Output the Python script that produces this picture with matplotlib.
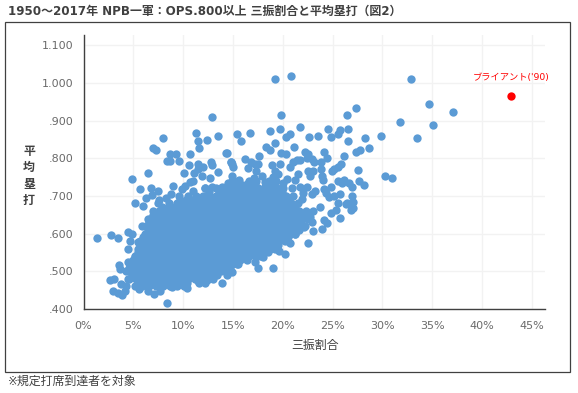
import matplotlib
matplotlib.use("Agg")
import matplotlib.pyplot as plt
from matplotlib.patches import Rectangle

plt.rcParams['font.family'] = ['DejaVu Sans', 'Noto Sans CJK JP']

W, H = 578, 393

# Isolated points: strike-out rate (%), total-base average
outer_strike = [19.2,20.8,32.9,34.7,37.1,35.1,33.5,31.8,27.4,26.5,29.9,28.3,28.7,27.8,27.4,30.3,31.0,27.6,27.7,28.2,
 12.87,11.3,13.5,11.5,12.4,11.6,8.0,6.95,7.3,8.7,9.3,8.35,8.7,9.6,10.7,14.3,10.6,11.5,12.8,14.8,10.1,6.5,4.9,5.7,6.75,7.5,9.0,5.2,6.0,6.3,6.85,
 19.8,15.4,16.7,15.8,18.7,19.7,21.7,20.3,20.7,22.6,23.5,24.5,24.8,25.5,25.8,26.6,26.6,26.2,14.4,18.3,18.7,19.2,21.1,24.1,24.4,17.6,19.8,20.3,
 22.2,22.5,22.9,23.1,16.2,16.8,17.5,17.2,14.8,15.0,16.5,18.9,19.7,20.7,21.0,21.4,21.7,22.4,23.8,23.8,25.9,25.5,25.1,24.9,17.3,19.2,19.5,19.0,
 21.2,21.5,22.5,23.0,22.7,23.9,24.0,25.5,26.2,26.0,27.0,26.7,24.8,24.1,21.7,22.4,27.0,27.1,26.5,25.5,25.1,25.8,27.1,
 1.35,2.75,3.5,4.5,4.9,4.7,4.5,3.55,3.65,2.65,3.1,3.0,3.5,3.9,4.2,3.75,4.3,4.5,8.35,13.9,14.4,7.1,5.6,10.4,8.9,6.5,7.7,11.5,12.4,10.2,
 4.5,5.2,5.85,5.5,6.2,5.85,6.5,22.5,19.0,17.5,17.2,18.0,20.2,19.6,20.7,25.7,23.9,23.0,24.1,24.4,22.7,22.9,24.8,23.7,26.9,26.4,21.2,22.1,15.5,14.9,
 7.6,8.3,8.8,9.9,10.2,10.7,11.0,11.0,12.2,12.9,11.9,12.7,11.5,12.0,12.9,13.5,11.1,13.9,14.5,14.9,14.9,
 15.6,16.4,17.1,18.2,17.9,18.8,20.0,20.9,22.0,23.2,24.6,21.9,20.4,15.9,16.9,18.4,19.9,22.9,24.3,25.3]
outer_slug = [1.011,1.019,1.009,.945,.924,.889,.855,.897,.933,.914,.859,.853,.826,.821,.816,.754,.748,.768,.739,.730,
 .909,.867,.858,.846,.848,.826,.853,.827,.823,.811,.811,.794,.794,.794,.811,.814,.781,.786,.791,.789,.762,.760,.744,.719,.722,.714,.727,.682,.674,.694,.703,
 .914,.864,.866,.845,.872,.877,.882,.856,.864,.856,.859,.877,.856,.864,.874,.877,.845,.805,.813,.829,.823,.840,.829,.816,.800,.805,.813,.811,
 .816,.812,.799,.789,.797,.789,.786,.785,.789,.778,.773,.781,.784,.778,.789,.796,.796,.801,.789,.772,.786,.776,.772,.765,.765,.765,.758,.749,
 .741,.759,.767,.767,.754,.754,.741,.739,.743,.733,.725,.734,.723,.719,.725,.723,.701,.683,.680,.680,.701,.706,.668,
 .589,.596,.589,.603,.600,.581,.558,.518,.507,.478,.480,.449,.442,.437,.449,.467,.462,.480,.415,.468,.489,.440,.452,.455,.458,.449,.449,.475,.478,.462,
 .524,.537,.568,.578,.590,.621,.638,.576,.510,.510,.524,.537,.547,.553,.574,.642,.612,.606,.635,.629,.643,.630,.654,.670,.663,.679,.600,.617,.519,.497,
 .688,.694,.706,.719,.727,.736,.739,.714,.722,.723,.754,.747,.772,.776,.781,.763,.760,.723,.733,.754,.786,
 .742,.731,.748,.738,.752,.727,.733,.722,.708,.714,.696,.691,.745,.716,.708,.707,.718,.704,.708,.662]

# Dense cloud read band by band: total-base level and the strike-out rates on it
band_levels = [.46,.48,.50,.52,.54,.56,.58,.60,.62,.64,.66,.68,.70,.72,.74]
band_strikes = [
 [5.2,5.9,6.6,7.3,8.0,8.7,9.4,10.1],
 [4.6,5.3,6.0,6.6,7.3,7.9,8.6,9.2,9.9,10.5,11.2,11.8,12.5,13.0],
 [4.3,4.9,5.5,6.2,6.8,7.4,8.1,8.7,9.3,10.0,10.6,11.3,11.9,12.6,13.2,13.8,14.4],
 [4.7,5.4,6.0,6.6,7.3,7.9,8.5,9.2,9.8,10.4,11.1,11.7,12.4,13.0,13.6,14.3,14.9,15.4],
 [5.2,5.8,6.5,7.1,7.7,8.4,9.0,9.6,10.3,10.9,11.5,12.2,12.8,13.4,14.1,14.7,15.3,16.0,16.6,17.2,17.7],
 [5.5,6.1,6.8,7.4,8.0,8.7,9.3,9.9,10.6,11.2,11.8,12.5,13.1,13.7,14.4,15.0,15.6,16.3,16.9,17.5,18.2,18.7,19.2],
 [5.7,6.4,7.0,7.6,8.3,8.9,9.5,10.2,10.8,11.4,12.1,12.7,13.3,14.0,14.6,15.2,15.9,16.5,17.1,17.8,18.4,19.0,19.6,20.2],
 [6.2,6.8,7.4,8.1,8.7,9.3,10.0,10.6,11.2,11.9,12.5,13.1,13.8,14.4,15.0,15.7,16.3,16.9,17.6,18.2,18.8,19.5,20.1,20.7,21.2],
 [6.3,7.0,7.6,8.2,8.9,9.5,10.1,10.8,11.4,12.0,12.7,13.3,13.9,14.6,15.2,15.8,16.5,17.1,17.7,18.4,19.0,19.6,20.3,20.9,21.5,22.2],
 [6.7,7.3,7.9,8.6,9.2,9.8,10.5,11.1,11.7,12.4,13.0,13.6,14.3,14.9,15.5,16.2,16.8,17.4,18.1,18.7,19.3,20.0,20.6,21.2,21.9,22.5],
 [7.0,7.6,8.3,8.9,9.5,10.2,10.8,11.4,12.1,12.7,13.3,14.0,14.6,15.2,15.9,16.5,17.1,17.8,18.4,19.0,19.7,20.3,20.9,21.6,22.3,23.0],
 [7.5,8.6,9.4,10.0,10.7,11.3,11.9,12.6,13.2,13.8,14.5,15.1,15.7,16.4,17.0,17.6,18.3,18.9,19.5,20.2,20.8,21.5],
 [9.6,10.5,11.3,12.0,12.6,13.3,13.9,14.5,15.2,15.8,16.4,17.1,17.7,18.3,19.0,19.6,20.3,21.0],
 [12.2,13.3,14.2,15.0,15.6,16.2,16.9,17.5,18.1,18.8,19.4,20.0],
 [14.9,15.5,16.6,17.3,18.6,19.3],
]

# Points lying between those bands
mid_levels = [.47,.49,.51,.53,.55,.57,.59,.61,.63,.65,.67,.69,.71,.73]
mid_strikes = [
 [5.5,6.2,6.9,7.6,8.3,9.0,9.7,10.4,11.6,12.2],
 [4.9,5.6,6.3,6.9,7.6,8.2,8.9,9.5,10.2,10.8,11.5,12.1,12.8,13.4],
 [4.6,5.2,5.8,6.5,7.1,7.7,8.4,9.0,9.6,10.3,10.9,11.6,12.2,12.9,13.5,14.1,14.7],
 [5.0,5.7,6.3,6.9,7.6,8.2,8.8,9.5,10.1,10.7,11.4,12.0,12.7,13.3,13.9,14.6,15.2,15.7,16.4],
 [5.5,6.1,6.8,7.4,8.0,8.7,9.3,9.9,10.6,11.2,11.8,12.5,13.1,13.7,14.4,15.0,15.6,16.3,16.9,17.5,18.0,18.5],
 [5.8,6.4,7.1,7.7,8.3,9.0,9.6,10.2,10.9,11.5,12.1,12.8,13.4,14.0,14.7,15.3,15.9,16.6,17.2,17.8,18.5,19.0,19.5],
 [6.0,6.7,7.3,7.9,8.6,9.2,9.8,10.5,11.1,11.7,12.4,13.0,13.6,14.3,14.9,15.5,16.2,16.8,17.4,18.1,18.7,19.3,19.9,20.5],
 [6.5,7.1,7.7,8.4,9.0,9.6,10.3,10.9,11.5,12.2,12.8,13.4,14.1,14.7,15.3,16.0,16.6,17.2,17.9,18.5,19.1,19.8,20.4,21.0,21.6],
 [6.6,7.3,7.9,8.5,9.2,9.8,10.4,11.1,11.7,12.3,13.0,13.6,14.2,14.9,15.5,16.1,16.8,17.4,18.0,18.7,19.3,19.9,20.6,21.2,21.8],
 [7.0,7.6,8.2,8.9,9.5,10.1,10.8,11.4,12.0,12.7,13.3,13.9,14.6,15.2,15.8,16.5,17.1,17.7,18.4,19.0,19.6,20.3,20.9,21.5,22.1],
 [7.9,8.6,9.2,9.8,10.5,11.1,11.7,12.4,13.0,13.6,14.3,14.9,15.5,16.2,16.8,17.4,18.1,18.7,19.3,20.0,20.6,21.2],
 [9.7,10.3,11.0,11.6,12.2,12.9,13.5,14.1,14.8,15.4,16.0,16.7,17.3,17.9,18.6,19.2,19.8,20.5],
 [12.6,13.6,14.2,14.8,15.5,16.1,16.7,17.4,18.0,18.6,19.3,19.9],
 [14.5,15.2,15.9,16.5,17.2,18.3,19.0],
]

bryant_strike = [42.9]
bryant_slug = [.966]
bryant_label = "ブライアント('90)"

x_ticks = [0, 5, 10, 15, 20, 25, 30, 35, 40, 45]
x_labels = ['0%', '5%', '10%', '15%', '20%', '25%', '30%', '35%', '40%', '45%']
y_ticks = [.4, .5, .6, .7, .8, .9, 1.0, 1.1]
y_labels = ['.400', '.500', '.600', '.700', '.800', '.900', '1.000', '1.100']

title = '1950～2017年 NPB一軍：OPS.800以上 三振割合と平均塁打（図2）'
x_title = '三振割合'
y_title = '平\n均\n塁\n打'
note = '※規定打席到達者を対象'

fig = plt.figure(figsize=(W / 100, H / 100), dpi=100, facecolor='white')

fig.add_artist(Rectangle((4.5 / W, 1 - 371.5 / H), 565.5 / W, 350 / H, transform=fig.transFigure,
                         fill=False, edgecolor='#404040', linewidth=0.9))

ax = fig.add_axes([83.5 / W, 1 - 309 / H, 461.5 / W, 274 / H])
ax.set_xlim(0, 46.33)
ax.set_ylim(.4, 1.127)
ax.set_xticks(x_ticks, x_labels)
ax.set_yticks(y_ticks, y_labels)
ax.tick_params(length=0, labelsize=8.0, labelcolor='#6a6a6a', pad=7.5)
ax.tick_params(axis='x', pad=8.5)
ax.grid(True, color='#f2f2f2', linewidth=1)
ax.set_axisbelow(True)
for side in ('top', 'right'):
    ax.spines[side].set_visible(False)
for side in ('left', 'bottom'):
    ax.spines[side].set_color('#404040')
    ax.spines[side].set_linewidth(1)

blue = '#5b9bd5'
size = 36
ax.scatter(outer_strike, outer_slug, s=size, color=blue, linewidths=0, zorder=3, clip_on=False)
for level, strikes in zip(band_levels, band_strikes):
    ax.scatter(strikes, [level] * len(strikes), s=size, color=blue, linewidths=0, zorder=3)
for level, strikes in zip(mid_levels, mid_strikes):
    ax.scatter(strikes, [level] * len(strikes), s=size, color=blue, linewidths=0, zorder=3)
ax.scatter(bryant_strike, bryant_slug, s=size, color='#ff0000', linewidths=0, zorder=4)
ax.annotate(bryant_label, (bryant_strike[0], bryant_slug[0]), xytext=(0, 18), textcoords='offset pixels',
            ha='center', va='center', color='#ff0000', fontsize=6.7)

fig.text(8 / W, 1 - 11.5 / H, title, fontsize=8.6, fontweight='bold', color='#404040', ha='left', va='center')
fig.text(315 / W, 1 - 345 / H, x_title, fontsize=8.6, color='#404040', ha='center', va='center')
fig.text(29 / W, 1 - 176 / H, y_title, fontsize=8.6, fontweight='bold', color='#404040', ha='center', va='center', linespacing=1.35)
fig.text(8 / W, 1 - 381.5 / H, note, fontsize=8.6, color='#404040', ha='left', va='center')

fig.savefig('out.png', dpi=100, facecolor='white')
